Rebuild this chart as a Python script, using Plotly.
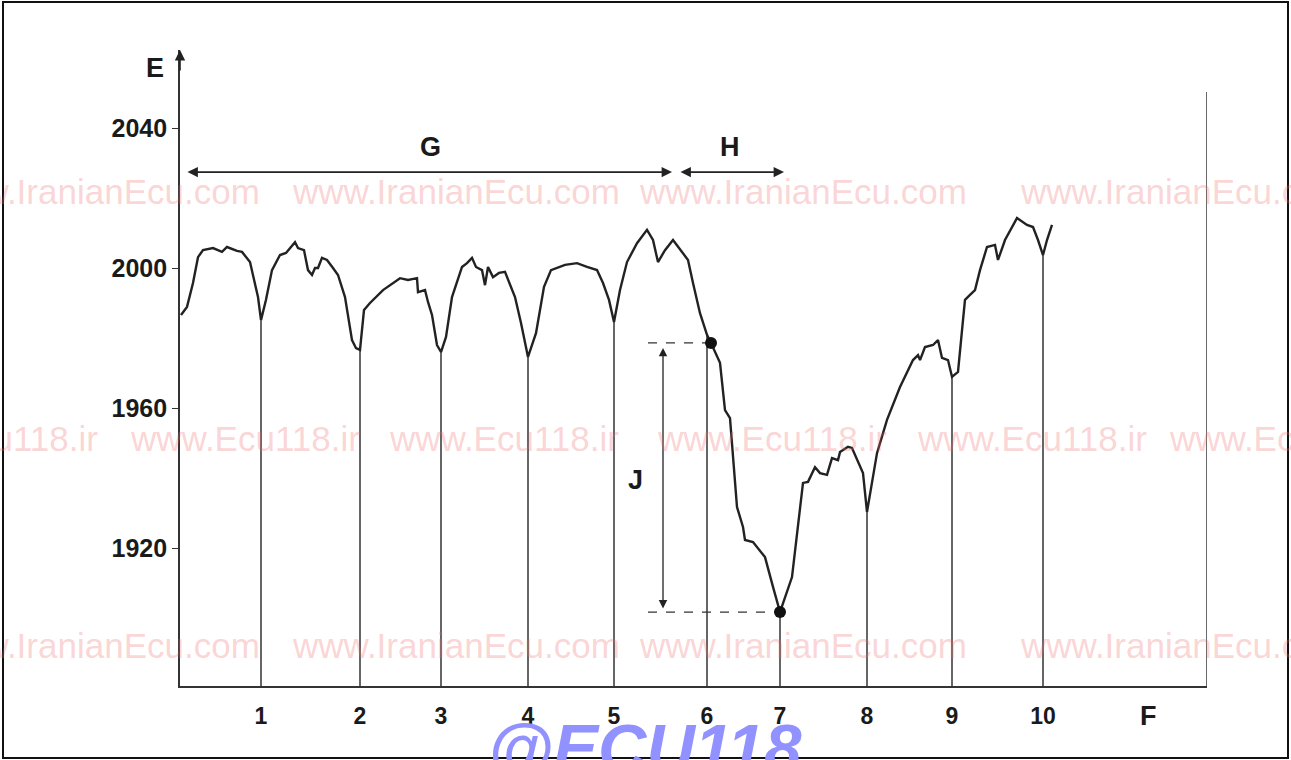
import numpy as np
import plotly.graph_objects as go

# ---- data ----
# sample position along the F axis (arbitrary units) and engine speed E (rpm)
curve_x = [1, 3, 7, 13, 18, 23, 33, 42, 47, 57, 62, 70, 75, 78, 81, 86, 92, 100, 106, 111,
           115, 118, 124, 128, 132, 135, 138, 142, 147, 153, 158, 165, 172, 176, 180, 184, 190,
           203, 220, 228, 237, 238, 245, 248, 252, 257, 261, 266, 272, 282, 287, 292, 296, 302,
           305, 308, 313, 319, 325, 335, 341, 348, 356, 364, 371, 385, 397, 407, 417, 423, 429,
           434, 440, 447, 457, 467, 473, 478, 485, 493, 508, 513, 520, 527, 531, 540, 545, 550,
           557, 563, 565, 573, 585, 593, 600, 612, 623, 628, 635, 640, 647, 652, 658, 660, 668,
           672, 677, 683, 687, 697, 707, 720, 733, 738, 740, 745, 753, 758, 762, 768, 772, 778,
           783, 785, 790, 795, 800, 807, 815, 818, 825, 837, 847, 853, 858, 863, 867, 872]
curve_e = [1986.6, 1987.4, 1988.9, 1995.7, 2003.1, 2005.1, 2005.7, 2004.6, 2006.0, 2004.9,
           2004.6, 2001.7, 1995.1, 1991.7, 1985.1, 1990.9, 1999.4, 2003.7, 2004.3, 2006.0,
           2007.4, 2005.7, 2005.1, 1999.4, 1998.0, 2000.0, 2000.0, 2002.9, 2002.3, 2000.0,
           1998.0, 1991.7, 1979.4, 1977.1, 1976.6, 1988.0, 1990.0, 1993.7, 1997.1, 1996.6,
           1997.1, 1993.1, 1993.7, 1990.3, 1986.6, 1978.0, 1976.0, 1980.3, 1991.7, 2000.3,
           2001.4, 2002.9, 2000.3, 1999.4, 1995.1, 2000.3, 1997.4, 1998.6, 1998.9, 1991.7,
           1984.3, 1974.6, 1981.4, 1994.6, 1999.4, 2000.9, 2001.4, 2000.3, 1999.4, 1995.7,
           1990.9, 1984.6, 1993.7, 2001.7, 2007.1, 2010.9, 2008.0, 2001.7, 2005.1, 2008.0,
           2002.3, 1995.7, 1987.1, 1980.9, 1978.6, 1972.9, 1959.4, 1957.1, 1931.7, 1926.0,
           1922.3, 1921.7, 1917.4, 1908.9, 1901.7, 1911.7, 1938.6, 1938.9, 1943.1, 1941.4,
           1940.9, 1945.7, 1945.1, 1947.4, 1948.9, 1948.6, 1945.1, 1941.4, 1930.3, 1947.1,
           1956.6, 1966.0, 1973.7, 1975.1, 1973.7, 1977.4, 1978.0, 1979.4, 1974.3, 1973.7,
           1968.9, 1970.3, 1985.1, 1990.9, 1992.3, 1993.7, 1999.4, 2006.0, 2006.6, 2002.3,
           2008.0, 2014.3, 2012.3, 2011.7, 2008.0, 2003.7, 2008.0, 2012.3]

# firing / cylinder markers on the F axis
firing_x = [81, 180, 261, 348, 434, 527, 600, 687, 772, 863]
firing_labels = ["1", "2", "3", "4", "5", "6", "7", "8", "9", "10"]

y_ticks = [1920, 1960, 2000, 2040]

# J measurement (drop in speed between two marked points)
j_points_x = [531, 600]
j_points_e = [1978.6, 1901.7]

X_MIN, X_MAX = 0, 1027
Y_MIN, Y_MAX = 1880.57, 2062.29

fig = go.Figure()

# vertical firing lines from the axis up to the curve
line_tops = np.interp(firing_x, curve_x, curve_e)
vx, vy = [], []
for fx, top in zip(firing_x, line_tops):
    vx += [fx, fx, None]
    vy += [Y_MIN, top, None]
fig.add_trace(go.Scatter(x=vx, y=vy, mode="lines",
                         line=dict(color="#333333", width=1.5), hoverinfo="skip",
                         showlegend=False))

# speed curve
fig.add_trace(go.Scatter(x=curve_x, y=curve_e, mode="lines",
                         line=dict(color="#222222", width=2.4), showlegend=False))

# dashed reference lines for J
fig.add_trace(go.Scatter(x=[468, j_points_x[0], None, 468, j_points_x[1]],
                         y=[j_points_e[0], j_points_e[0], None, j_points_e[1], j_points_e[1]],
                         mode="lines", line=dict(color="#333333", width=1.2, dash="dash"),
                         hoverinfo="skip", showlegend=False))
# marked points
fig.add_trace(go.Scatter(x=j_points_x, y=j_points_e, mode="markers",
                         marker=dict(color="#111111", size=12), showlegend=False))

ann = []
# axis arrow at top of E axis
ann.append(dict(x=0, y=Y_MAX, xref="x", yref="y", ax=0, ay=22, axref="pixel", ayref="pixel",
                text="", showarrow=True, arrowhead=2, arrowsize=1.3, arrowwidth=1.6,
                arrowcolor="#222222"))
# G arrow (double headed)
ann.append(dict(x=492, y=2027.4, ax=6, ay=2027.4, xref="x", yref="y", axref="x", ayref="y",
                text="", showarrow=True, arrowhead=2, startarrowhead=2, arrowside="end+start",
                arrowsize=1.3, arrowwidth=1.6, arrowcolor="#222222"))
# H arrow (double headed)
ann.append(dict(x=604, y=2027.4, ax=499, ay=2027.4, xref="x", yref="y", axref="x", ayref="y",
                text="", showarrow=True, arrowhead=2, startarrowhead=2, arrowside="end+start",
                arrowsize=1.3, arrowwidth=1.6, arrowcolor="#222222"))
# J arrow (double headed vertical)
ann.append(dict(x=483, y=j_points_e[1] + 1, ax=483, ay=j_points_e[0] - 1, xref="x", yref="y",
                axref="x", ayref="y", text="", showarrow=True, arrowhead=2, startarrowhead=2,
                arrowside="end+start", arrowsize=1.3, arrowwidth=1.3, arrowcolor="#222222"))

lab_font = dict(family="Liberation Sans, Arial", size=27, color="#1a1a1a")
def label(x, y, xref, yref, text, font):
    return dict(x=x, y=y, xref=xref, yref=yref, text=text, showarrow=False,
                xanchor="center", yanchor="middle", font=font)
ann.append(label(250, 2034.6, "x", "y", "<b>G</b>", lab_font))
ann.append(label(550, 2034.6, "x", "y", "<b>H</b>", lab_font))
ann.append(label(455, 1939.4, "x", "y", "<b>J</b>", lab_font))

def px(p):
    return (p - 180) / 1027.0
def py(p):
    return (686 - p) / 636.0

ann.append(label(px(155), py(68), "paper", "paper", "<b>E</b>", lab_font))
ann.append(label(968, py(716), "x", "paper", "<b>F</b>", lab_font))

# watermarks
wm_font = dict(family="Liberation Sans, Arial", size=35, color="rgba(240,110,110,0.3)")
for row_y in (192, 645):
    ann.append(dict(x=px(262), y=py(row_y), xref="paper", yref="paper", xanchor="right",
                    yanchor="middle", text="www.IranianEcu.com", showarrow=False, font=wm_font))
    for start in (290, 637, 1018):
        ann.append(dict(x=px(start), y=py(row_y), xref="paper", yref="paper", xanchor="left",
                        yanchor="middle", text="www.IranianEcu.com", showarrow=False,
                        font=wm_font))
ann.append(dict(x=px(100), y=py(438), xref="paper", yref="paper", xanchor="right",
                yanchor="middle", text="www.Ecu118.ir", showarrow=False, font=wm_font))
for start in (128, 387, 655, 915, 1167):
    ann.append(dict(x=px(start), y=py(438), xref="paper", yref="paper", xanchor="left",
                    yanchor="middle", text="www.Ecu118.ir", showarrow=False, font=wm_font))

# bottom logo text
ann.append(dict(x=px(645), y=py(708), xref="paper", yref="paper", xanchor="center",
                yanchor="top", text="<b><i>@ECU118</i></b>", showarrow=False,
                font=dict(family="Liberation Sans, Arial", size=67, color="rgb(145,145,255)")))

shapes = [
    # right-hand boundary line
    dict(type="line", xref="x", yref="y", x0=X_MAX, x1=X_MAX, y0=Y_MIN, y1=2050.3,
         line=dict(color="#444444", width=1.6)),
    # outer frame
    dict(type="rect", xref="paper", yref="paper", x0=px(3), x1=px(1288), y0=py(758), y1=py(2),
         line=dict(color="#111111", width=2), layer="below"),
]

fig.update_layout(
    width=1291, height=760,
    margin=dict(l=180, r=84, t=50, b=74),
    paper_bgcolor="white", plot_bgcolor="white",
    annotations=ann, shapes=shapes,
    xaxis=dict(range=[X_MIN, X_MAX], tickvals=firing_x,
               ticktext=[f"<b>{t}</b>" for t in firing_labels],
               showgrid=False, zeroline=False, showline=True, linecolor="#333333",
               linewidth=1.6, ticks="", ticklabelstandoff=9,
               tickfont=dict(family="Liberation Sans Narrow, Liberation Sans, Arial",
                             size=23, color="#1a1a1a")),
    yaxis=dict(range=[Y_MIN, Y_MAX], tickvals=y_ticks, ticktext=[f"<b>{v}</b>" for v in y_ticks],
               showgrid=False, zeroline=False, showline=True, linecolor="#333333",
               linewidth=1.6, ticks="outside", ticklen=6, tickwidth=1.4, tickcolor="#333333",
               tickfont=dict(family="Liberation Sans, Arial", size=25, color="#1a1a1a")),
)

fig.write_html("out.html", config={"displayModeBar": False},
               post_script="document.body.style.margin='0';")
